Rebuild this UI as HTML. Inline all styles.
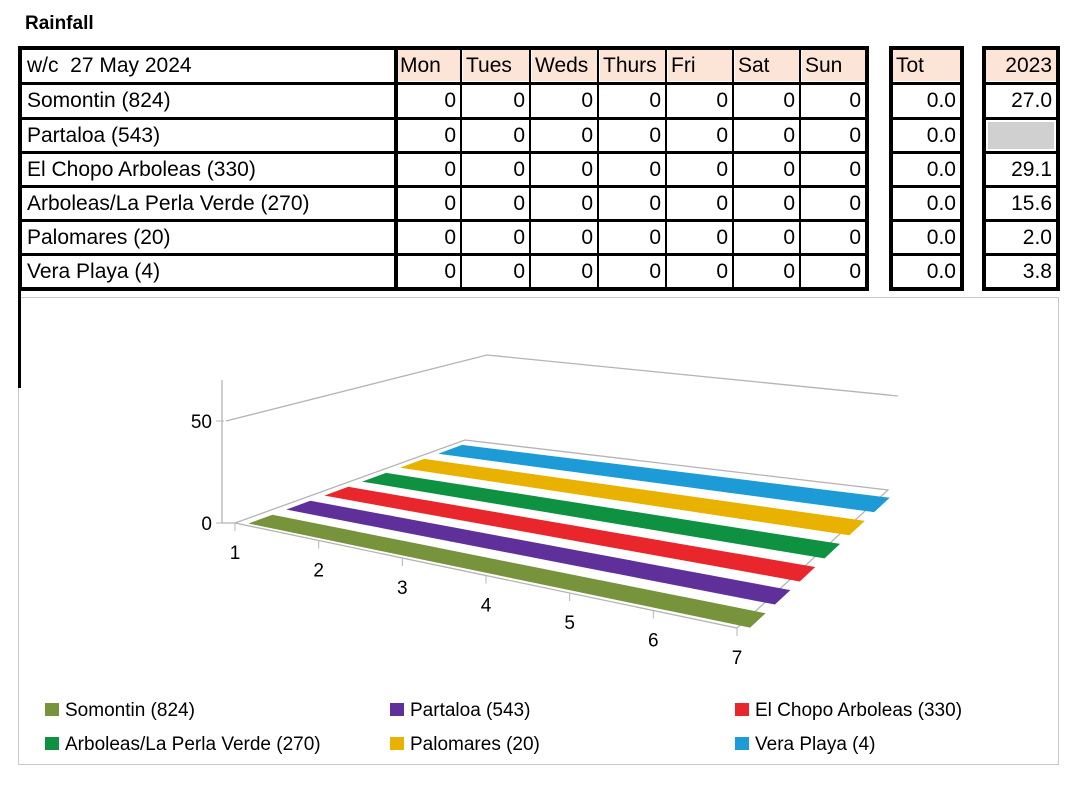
<!DOCTYPE html>
<html><head><meta charset="utf-8">
<style>
body{margin:0;width:1079px;height:800px;background:#fff;font-family:"Liberation Sans",sans-serif;position:relative;overflow:hidden}
.a{position:absolute}
.cell{position:absolute;box-sizing:border-box;font-size:21px;line-height:33px;white-space:nowrap;overflow:hidden}
.hd{background:#fce4d6;padding-left:3px}
.num{text-align:right;padding-right:4px}
</style></head><body>
<div class="a" style="left:25px;top:13px;font-weight:bold;font-size:19px">Rainfall</div>
<div id="tbl"></div>
<div class="a" style="left:18px;top:297px;width:1041px;height:468px;border:1px solid #c8c8c8;box-sizing:border-box"></div>
<div class="a" style="left:18px;top:287px;width:3px;height:101px;background:#000"></div>
<svg class="a" id="chart" style="left:0;top:0" width="1079" height="800"></svg>
<script>
const names=["Somontin (824)","Partaloa (543)","El Chopo Arboleas (330)","Arboleas/La Perla Verde (270)","Palomares (20)","Vera Playa (4)"];
const days=["Mon","Tues","Weds","Thurs","Fri","Sat","Sun"];
const dayVals=[[0,0,0,0,0,0,0],[0,0,0,0,0,0,0],[0,0,0,0,0,0,0],[0,0,0,0,0,0,0],[0,0,0,0,0,0,0],[0,0,0,0,0,0,0]];
const totals=["0.0","0.0","0.0","0.0","0.0","0.0"];
const prev=["27.0","","29.1","15.6","2.0","3.8"];
const colors=["#77933c","#60309a","#e8262c","#0e9141","#e9b100","#1c9bd6"];
const xTicks=["1","2","3","4","5","6","7"];
const yTicks=[0,50];

const T=document.getElementById('tbl');
const colX=[20,395,461,530,598,666,733,800,866];
const rowY=[47,82,117,151,185,219,253,287];
function cell(x,y,w,h,txt,cls,bg){const d=document.createElement('div');d.className='cell '+cls;d.style.left=x+'px';d.style.top=y+'px';d.style.width=w+'px';d.style.height=h+'px';d.style.lineHeight=h+'px';d.textContent=txt;if(bg)d.style.background=bg;T.appendChild(d);return d;}
function line(x,y,w,h){const d=document.createElement('div');d.className='a';d.style.cssText=`left:${x}px;top:${y}px;width:${w}px;height:${h}px;background:#000`;T.appendChild(d);return d;}
let c=cell(24,rowY[0]+3,370,31,"w/c  27 May 2024","");c.style.paddingLeft='3px';c.style.whiteSpace='pre';

days.forEach((d,i)=>{const e=cell(colX[i+1]+2,rowY[0]+3,colX[i+2]-colX[i+1]-3,31,d,'hd');

});
let e=cell(893,rowY[0]+3,67,31,"Tot",'hd');
e=cell(986,rowY[0]+3,70,31,"2023",'hd num');
names.forEach((n,r)=>{const y=rowY[r+1]+3,h=rowY[r+2]-rowY[r+1]-3;
 let q=cell(24,y,370,h,n,'');q.style.paddingLeft='3px';
 
 
 dayVals[r].forEach((v,i)=>{const z=cell(colX[i+1]+2,y,colX[i+2]-colX[i+1]-3,h,String(v),'num');
  
  });
 q=cell(893,y,67,h,totals[r],'num');
 
 
 q=cell(986,y,70,h,prev[r],'num',prev[r]===''?'#d0d0d0':null);
 if(prev[r]===''){q.style.top=(y+2)+'px';q.style.height=(h-4)+'px';q.style.left='988px';q.style.width='66px';}
 
 
});
rowY.forEach((y,i)=>line(18,y-(i==0?1:0),850,i==0||i==7?4:3));
line(18,46,4,245);line(865,46,4,245);
colX.slice(1,8).forEach(x=>line(x-1,47,x==395?4:2,242));
[[889,964],[982,1060]].forEach(([a,b])=>{rowY.forEach((y,i)=>line(a,y-(i==0?1:0),b-a,i==0||i==7?4:3));line(a,46,4,245);line(b-4,46,4,245);});

const S=document.getElementById('chart');const NS="http://www.w3.org/2000/svg";
function el(t,a){const n=document.createElementNS(NS,t);for(const k in a)n.setAttribute(k,a[k]);S.appendChild(n);return n;}
const FL=[235,523],FR=[737,628],BL=[465,440],BR=[888,490];
const zScale=102/50;
function P(u,v,z){const f=(k)=>(1-u)*(1-v)*FL[k]+u*(1-v)*FR[k]+(1-u)*v*BL[k]+u*v*BR[k];return [f(0),f(1)-z*zScale];}
const xS=i=>i/(xTicks.length-1);
let g=el('g',{stroke:'#b4b4b4','stroke-width':1.3,fill:'none'});


function pl(pts,par){const p=document.createElementNS(NS,'polyline');p.setAttribute('points',pts.map(q=>q.join(',')).join(' '));(par||g).appendChild(p);return p;}
pl([P(0,0,0),P(1,0,0),P(1,1,0),P(0,1,0),P(0,0,0)]);
pl([[222,380],[222,523],[235,523]]);
pl([[226,421],[487,355],[898,396]]);
yTicks.forEach(t=>{const y=523-t*zScale;const l=el('line',{x1:216,x2:224,y1:y,y2:y,stroke:'#b4b4b4'});
 
 
 const tx=el('text',{x:212,y:y+7,'text-anchor':'end','font-size':19,fill:'#000'});tx.textContent=t;
 
 });
xTicks.forEach((t,i)=>{const p=P(xS(i),0,0);const l=el('line',{x1:p[0],y1:p[1],x2:p[0],y2:p[1]+8,stroke:'#b4b4b4'});
 
 
 const tx=el('text',{x:p[0],y:p[1]+36,'text-anchor':'middle','font-size':19,fill:'#000'});tx.textContent=t;
 
 });
dayVals.forEach((vals,s)=>{const v0=0.02+s*0.166,v1=v0+0.1;
 for(let i=0;i<vals.length-1;i++){const a=xS(i)+0.02,b=xS(i+1)+0.02;
  const pts=[P(a,v0,vals[i]),P(b,v0,vals[i+1]),P(b,v1,vals[i+1]),P(a,v1,vals[i])];
  const p=el('polygon',{points:pts.map(q=>q.join(',')).join(' '),fill:colors[s],stroke:colors[s],'stroke-width':0.6});
  
  }
});
names.forEach((n,i)=>{const x=[45,390,735][i%3],y=[709,743][Math.floor(i/3)];
 const r=el('rect',{x:x,y:y-6,width:14,height:13,fill:colors[i]});
 
 
 const t=el('text',{x:x+20,y:y+7,'font-size':19,fill:'#000'});t.textContent=n;
 
 });
</script>
</body></html>
